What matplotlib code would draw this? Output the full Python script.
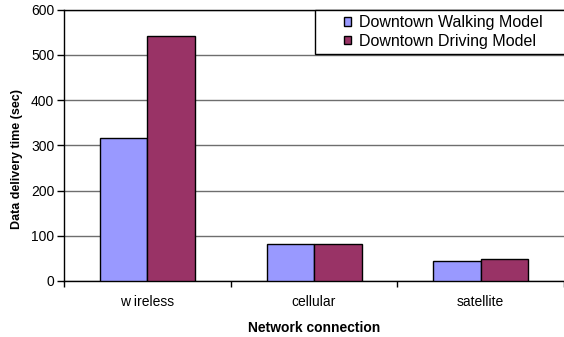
import matplotlib
matplotlib.use("Agg")
import matplotlib.pyplot as plt
from matplotlib.patches import Rectangle
import numpy as np

categories = ["w ireless", "cellular", "satellite"]
walking = [316, 81, 44]
driving = [541, 81, 48]
series_names = ["Downtown Walking Model", "Downtown Driving Model"]
y_ticks = [0, 100, 200, 300, 400, 500, 600]

plt.rcParams["font.family"] = ["Liberation Sans", "DejaVu Sans"]

fig = plt.figure(figsize=(5.64, 3.37), dpi=100)
ax = fig.add_axes([64 / 564, 56 / 337, 500 / 564, 271.5 / 337])

x = np.arange(len(categories))
w = 0.285
ax.bar(x - w / 2, walking, w, color="#9999FF", edgecolor="black", linewidth=1.0,
       label=series_names[0], zorder=3)
ax.bar(x + w / 2, driving, w, color="#993366", edgecolor="black", linewidth=1.0,
       label=series_names[1], zorder=3)

ax.set_xlim(-0.5, 2.5)
ax.set_ylim(0, 600)
ax.set_yticks(y_ticks)
ax.set_yticklabels([str(v) for v in y_ticks], fontsize=10)
ax.yaxis.grid(True, color="#6e6e6e", linewidth=1.0, zorder=0)
ax.tick_params(axis="y", length=5, width=1, direction="out", pad=2)

ax.set_xticks(x)
ax.set_xticklabels(categories, fontsize=10)
ax.tick_params(axis="x", length=0, pad=10)
ax.set_xticks([-0.5, 0.5, 1.5, 2.5], minor=True)
ax.tick_params(axis="x", which="minor", length=4, width=1, direction="out")

ax.spines["right"].set_visible(False)
for side in ["left", "bottom", "top"]:
    ax.spines[side].set_color("black")
    ax.spines[side].set_linewidth(1.0)

ax.set_ylabel("Data delivery time (sec)", fontsize=9, fontweight="bold",
              labelpad=6, y=0.449)
ax.set_xlabel("Network connection", fontsize=10, fontweight="bold", labelpad=9)

# legend box spanning to the right edge of the plot area
box = Rectangle((0.502, 0.836), 0.5, 0.164, transform=ax.transAxes,
                facecolor="white", edgecolor="black", linewidth=1.0,
                zorder=4, clip_on=False)
ax.add_patch(box)

leg = ax.legend(loc="upper left", bbox_to_anchor=(0.548, 1.0), frameon=False,
                fontsize=11.5, borderaxespad=0, borderpad=0.35,
                handlelength=0.45, handleheight=0.45, handletextpad=0.5,
                labelspacing=0.22)
for h in leg.legend_handles:
    h.set_linewidth(1.0)
leg.set_zorder(5)

fig.savefig("out.png", dpi=100)
